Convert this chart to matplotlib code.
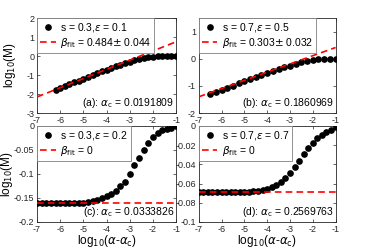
import matplotlib
matplotlib.use("Agg")
import matplotlib.pyplot as plt
import numpy as np

plt.rcParams["font.family"] = ["Liberation Sans", "DejaVu Sans"]
plt.rcParams["mathtext.fontset"] = "dejavusans"

# panel (a): s = 0.3, eps = 0.1
xa = np.linspace(-6.2, -1.0, 27)
ya = [-1.78, -1.68, -1.58, -1.48, -1.38, -1.29, -1.19, -1.09, -1.00, -0.90,
      -0.81, -0.72, -0.63, -0.54, -0.45, -0.37, -0.29, -0.22, -0.15, -0.10,
      -0.06, -0.03, -0.015, -0.007, -0.003, -0.001, 0.0]
fit_a = (0.484, 1.238)

# panel (b): s = 0.7, eps = 0.5
xb = np.linspace(-6.5, -1.0, 23)
yb = [-1.29, -1.215, -1.14, -1.06, -0.985, -0.905, -0.83, -0.75, -0.675, -0.60,
      -0.52, -0.45, -0.38, -0.31, -0.25, -0.19, -0.13, -0.08, -0.05, -0.025,
      -0.01, -0.003, 0.0]
fit_b = (0.303, 0.72)

# panel (c): s = 0.3, eps = 0.2
xc = np.linspace(-7.0, -1.0, 31)
yc = [-0.1595] * 11 + [-0.158, -0.156, -0.154, -0.150, -0.146, -0.141, -0.135,
      -0.125, -0.116, -0.100, -0.082, -0.067, -0.050, -0.035, -0.022, -0.014,
      -0.0084, -0.0056, -0.0035, -0.001]
fit_c = -0.1595

# panel (d): s = 0.7, eps = 0.7
xd = np.linspace(-7.0, -1.0, 31)
yd = [-0.0685] * 11 + [-0.0684, -0.0682, -0.068, -0.0667, -0.0656, -0.064,
      -0.062, -0.058, -0.054, -0.049, -0.043, -0.036, -0.029, -0.023, -0.0174,
      -0.0125, -0.009, -0.0063, -0.0038, -0.001]
fit_d = -0.0685

fig = plt.figure(figsize=(3.7, 2.48), dpi=100)
axa = fig.add_axes([0.100, 0.544, 0.376, 0.383])
axb = fig.add_axes([0.537, 0.544, 0.370, 0.383])
axc = fig.add_axes([0.100, 0.105, 0.376, 0.387])
axd = fig.add_axes([0.537, 0.105, 0.370, 0.387])

xfit = np.array([-7.0, -1.0])
panels = [
    (axa, xa, ya, fit_a[0] * xfit + fit_a[1], "s = 0.3,$\\epsilon$ = 0.1",
     "$\\beta_{\\rm fit}$ = 0.484$\\pm$ 0.044", "(a): $\\alpha_{\\rm c}$ = 0.0191809",
     (-3, 2), [-3, -2, -1, 0, 1, 2], ["-3", "-2", "-1", "0", "1", "2"]),
    (axb, xb, yb, fit_b[0] * xfit + fit_b[1], "s = 0.7,$\\epsilon$ = 0.5",
     "$\\beta_{\\rm fit}$ = 0.303$\\pm$ 0.032", "(b): $\\alpha_{\\rm c}$ = 0.1860969",
     (-2, 1.5), [-2, -1, 0, 1], ["-2", "-1", "0", "1"]),
    (axc, xc, yc, [fit_c, fit_c], "s = 0.3,$\\epsilon$ = 0.2",
     "$\\beta_{\\rm fit}$ = 0", "(c): $\\alpha_{\\rm c}$ = 0.0333826",
     (-0.2, 0), [-0.2, -0.15, -0.1, -0.05, 0], ["-0.2", "-0.15", "-0.1", "-0.05", "0"]),
    (axd, xd, yd, [fit_d, fit_d], "s = 0.7,$\\epsilon$ = 0.7",
     "$\\beta_{\\rm fit}$ = 0", "(d): $\\alpha_{\\rm c}$ = 0.2569763",
     (-0.1, 0), [-0.1, -0.08, -0.06, -0.04, -0.02, 0],
     ["-0.1", "-0.08", "-0.06", "-0.04", "-0.02", "0"]),
]

for ax, x, y, yfit, lab_pts, lab_fit, note, ylim, yt, ytl in panels:
    ax.plot(x, y, "o", color="black", markersize=3.8, label=lab_pts, zorder=3)
    ax.plot(xfit, yfit, "--", color="red", linewidth=1.2, dashes=(4, 2.5),
            label=lab_fit, zorder=4)
    ax.set_xlim(-7, -1)
    ax.set_ylim(*ylim)
    ax.set_xticks([-7, -6, -5, -4, -3, -2, -1])
    ax.set_xticklabels(["-7", "-6", "-5", "-4", "-3", "-2", "-1"])
    ax.set_yticks(yt)
    ax.set_yticklabels(ytl)
    ax.tick_params(direction="in", top=True, right=True, length=2,
                   width=0.5, labelsize=6.5, pad=2, colors="#262626")
    for sp in ax.spines.values():
        sp.set_linewidth(0.6)
        sp.set_color("#262626")
    ax.text(0.985, 0.03, note, transform=ax.transAxes, ha="right",
            va="bottom", fontsize=7.5)
    leg = ax.legend(loc="upper left", fontsize=7.5, frameon=True, fancybox=False,
                    framealpha=1, borderaxespad=0.0, handlelength=1.5,
                    handletextpad=0.4, borderpad=0.3, labelspacing=0.15)
    leg.set_zorder(10)
    leg.get_frame().set_edgecolor("#808080")
    leg.get_frame().set_linewidth(0.6)

for ax, lx in ((axa, -0.135), (axc, -0.16)):
    ax.set_ylabel("log$_{10}$(M)", fontsize=8.5)
    ax.yaxis.set_label_coords(lx, 0.5)
for ax in (axc, axd):
    ax.set_xlabel("log$_{10}$($\\alpha$-$\\alpha_{\\rm c}$)", fontsize=8.5, labelpad=-0.5)

fig.savefig("out.png", dpi=100)
